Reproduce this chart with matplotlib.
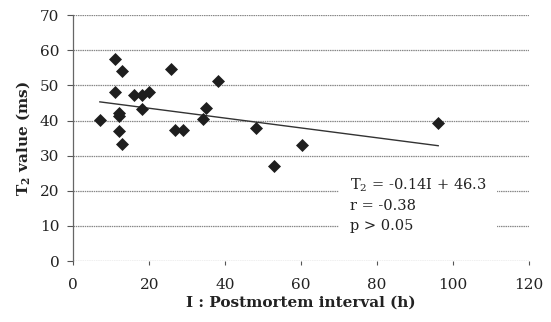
import numpy as np
import matplotlib
matplotlib.use('Agg')
import matplotlib.pyplot as plt
from matplotlib.patches import Rectangle

plt.rcParams['font.family'] = ['DejaVu Serif']
plt.rcParams['mathtext.fontset'] = 'dejavuserif'

# postmortem interval (h) and T2 value (ms)
interval = [7.0, 10.9, 12.9, 10.9, 12.0, 12.1, 12.0, 12.9, 15.9, 18.0, 19.9,
            18.0, 25.8, 26.8, 28.9, 38.1, 35.0, 34.1, 48.1, 52.9, 60.1, 96.1]
t2 = [40.2, 57.5, 54.1, 48.1, 42.1, 41.3, 37.1, 33.2, 47.3, 47.3, 48.2,
      43.3, 54.6, 37.3, 37.3, 51.4, 43.7, 40.5, 37.8, 27.1, 33.0, 39.4]

slope = -0.14
intercept = 46.3
stats_lines = ['T$_2$ = -0.14I + 46.3', 'r = -0.38', 'p > 0.05']

x_ticks = [0, 20, 40, 60, 80, 100, 120]
y_ticks = [0, 10, 20, 30, 40, 50, 60, 70]

fig = plt.figure(figsize=(5.51, 3.22), dpi=100)
ax = fig.add_axes([0.133, 0.189, 0.827, 0.764])

# grid lines
for yv in y_ticks:
    ax.axhline(yv, color='#888888', lw=0.9, ls=(0, (1.2, 0.6)), zorder=1)

# white box behind the statistics text
ax.add_patch(Rectangle((70, 6), 41.5, 20.5, facecolor='white',
                       edgecolor='none', zorder=2))

ax.scatter(interval, t2, marker='D', s=44, color='#1e1e1e', zorder=4,
           linewidths=0)

xl = np.array([min(interval), max(interval)])
ax.plot(xl, slope * xl + intercept, color='#333333', lw=1.0, zorder=3)

for i, line in enumerate(stats_lines):
    ax.text(73, 21.6 - i * 5.8, line, fontsize=10.5, va='center',
            ha='left', color='#222222', zorder=5)

ax.set_xlim(0, 120)
ax.set_ylim(0, 70)
ax.set_xticks(x_ticks)
ax.set_yticks(y_ticks)
ax.tick_params(axis='x', direction='out', length=3, width=0.8,
               color='#555555', pad=9, labelsize=11, labelcolor='#222222')
ax.tick_params(axis='y', direction='out', length=4, width=0.8,
               color='#555555', pad=6, labelsize=11, labelcolor='#222222')

for s in ['top', 'right', 'bottom']:
    ax.spines[s].set_visible(False)
ax.spines['left'].set_color('#666666')
ax.spines['left'].set_linewidth(0.9)

ax.set_xlabel('I : Postmortem interval (h)', fontsize=11, fontweight='bold',
              color='#222222', labelpad=3)
ax.set_ylabel(r'$\mathbf{T_2}$ value (ms)', fontsize=11, fontweight='bold',
              color='#222222', labelpad=6)

fig.savefig('out.png', dpi=100)
